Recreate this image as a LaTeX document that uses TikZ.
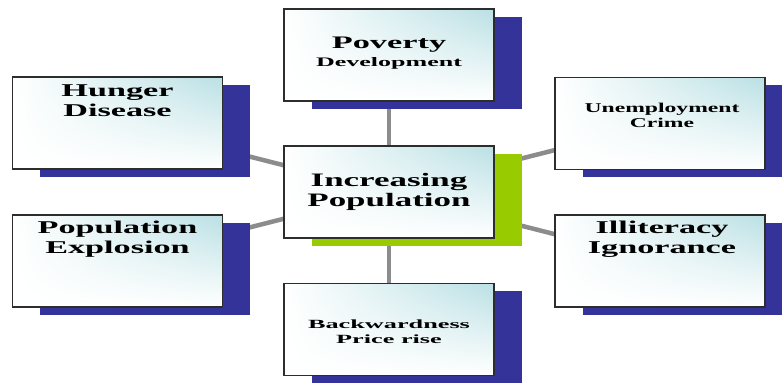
\documentclass[tikz,border=0pt]{standalone}
\usepackage{fontspec}
\setmainfont{Liberation Serif}
\usetikzlibrary{shadows,backgrounds,shadings}
\definecolor{shadowblue}{RGB}{51,51,153}
\definecolor{shadowgreen}{RGB}{153,204,0}
\definecolor{boxcyan}{RGB}{186,224,228}
\definecolor{linkgray}{RGB}{140,140,140}
\definecolor{edgegray}{RGB}{45,45,45}
\newcommand{\stretchtxt}[2][1.9]{\scalebox{#1}[1]{#2}}
\tikzset{
  topicbox/.style={rectangle, draw=edgegray, line width=1.3pt,
    minimum width=210pt, minimum height=92pt, inner sep=0pt,
    upper left=white, upper right=boxcyan,
    lower left=white, lower right=white},
  blueshadow/.style={general shadow={fill=shadowblue, shadow xshift=27.5pt, shadow yshift=-7.5pt}},
  greenshadow/.style={general shadow={fill=shadowgreen, shadow xshift=27.5pt, shadow yshift=-7.5pt}},
  bigtxt/.style={font=\bfseries\fontsize{18}{20}\selectfont, inner sep=0pt, align=center, text=black},
  link/.style={draw=linkgray, line width=4.5pt}
}
\begin{document}
\begin{tikzpicture}[x=1pt,y=-1pt]
\useasboundingbox (0,0) rectangle (782,383);
% boxes
\node[topicbox, blueshadow] (hunger) at (117.5,123) {};
\node[topicbox, blueshadow] (poverty) at (389,55) {};
\node[topicbox, greenshadow] (center) at (389,192) {};
\node[topicbox, blueshadow] (unemp) at (660,123.5) {};
\node[topicbox, blueshadow] (popexp) at (117.5,261) {};
\node[topicbox, blueshadow] (backward) at (389,329.5) {};
\node[topicbox, blueshadow] (illit) at (660,261) {};
% texts
\node[bigtxt, anchor=base] (hungerT1) at (117.5,96) {\stretchtxt{Hunger}};
\node[bigtxt, anchor=base] (hungerT2) at (117.5,116) {\stretchtxt{Disease}};
\node[bigtxt, anchor=base, font=\bfseries\fontsize{17.6}{20}\selectfont] (povertyT1) at (389,48) {\stretchtxt[1.95]{Poverty}};
\node[bigtxt, anchor=base, font=\bfseries\fontsize{13}{15}\selectfont] (povertyT2) at (389,66) {\stretchtxt[2.0]{Development}};
\node[bigtxt, anchor=base, font=\bfseries\fontsize{19}{21}\selectfont] (centerT1) at (389,186) {\stretchtxt[1.84]{Increasing}};
\node[bigtxt, anchor=base, font=\bfseries\fontsize{19}{21}\selectfont] (centerT2) at (389,206) {\stretchtxt[1.84]{Population}};
\node[bigtxt, anchor=base, font=\bfseries\fontsize{13.5}{15}\selectfont] (unempT1) at (662,112) {\stretchtxt[1.75]{Unemployment}};
\node[bigtxt, anchor=base, font=\bfseries\fontsize{13.5}{15}\selectfont] (unempT2) at (662,127) {\stretchtxt[1.75]{Crime}};
\node[bigtxt, anchor=base] (popexpT1) at (117.5,233) {\stretchtxt{Population}};
\node[bigtxt, anchor=base] (popexpT2) at (117.5,253) {\stretchtxt{Explosion}};
\node[bigtxt, anchor=base, font=\bfseries\fontsize{12.5}{15}\selectfont] (backwardT1) at (389,328) {\stretchtxt[2.1]{Backwardness}};
\node[bigtxt, anchor=base, font=\bfseries\fontsize{12.5}{15}\selectfont] (backwardT2) at (389,343) {\stretchtxt[2.1]{Price rise}};
\node[bigtxt, anchor=base] (illitT1) at (662,233) {\stretchtxt{Illiteracy}};
\node[bigtxt, anchor=base] (illitT2) at (662,253) {\stretchtxt{Ignorance}};
% connectors behind everything
\begin{pgfonlayer}{background}
\draw[link] (center.center) -- (hunger.center);
\draw[link] (center.center) -- (poverty.center);
\draw[link] (center.center) -- (unemp.center);
\draw[link] (center.center) -- (popexp.center);
\draw[link] (center.center) -- (backward.center);
\draw[link] (center.center) -- (illit.center);
\end{pgfonlayer}
\end{tikzpicture}
\end{document}
